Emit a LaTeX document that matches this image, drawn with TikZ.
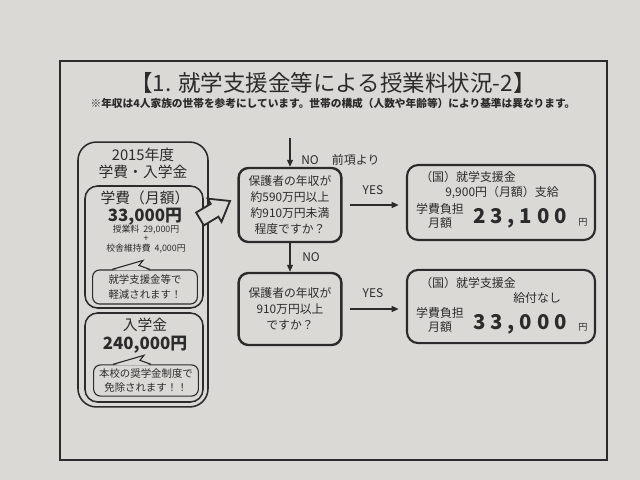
\documentclass[tikz,border=0pt]{standalone}
\usepackage{fontspec}
\setmainfont{Noto Sans CJK JP}
\usetikzlibrary{arrows.meta, positioning, calc}
\definecolor{paper}{HTML}{DAD9D5}
\definecolor{ink}{HTML}{2B2B2B}

\begin{document}
\begin{tikzpicture}[
    x=0.025cm, y=-0.025cm,
    every node/.style={text=ink, inner sep=0pt},
    frm/.style={draw=ink, line width=1pt},
    outbox/.style={draw=ink, line width=1.1pt, rounded corners=13pt, fill=paper},
    inbox/.style={draw=ink, line width=1.1pt, rounded corners=9pt},
    bubble/.style={draw=ink, line width=0.8pt, rounded corners=5pt, fill=paper, minimum width=2.62cm, align=center, font=\fontsize{7.4}{10}\selectfont},
    qbox/.style={draw=ink, line width=1.7pt, rounded corners=7pt, minimum width=2.57cm, align=center, font=\fontsize{8.4}{11.2}\selectfont},
    resbox/.style={draw=ink, line width=1.5pt, rounded corners=8pt, minimum width=4.7cm},
    flow/.style={draw=ink, line width=1pt, -{Triangle[length=5pt,width=4.2pt]}},
    lbl/.style={font=\fontsize{8.5}{10}\selectfont},
    head/.style={font=\fontsize{10.5}{13}\selectfont},
    rtxt/.style={font=\fontsize{8.5}{10}\selectfont, align=center},
    amt/.style={font=\fontsize{12}{14}\selectfont\bfseries},
    big/.style={font=\fontsize{14.5}{16}\selectfont\bfseries\addfontfeature{LetterSpace=24}},
    yen/.style={font=\fontsize{6.5}{8}\selectfont},
]
    % paper and frame
    \fill[paper] (0,0) rectangle (640,480);
    \useasboundingbox (0,0) rectangle (640,480);
    \draw[frm] (60,61) rectangle (607,460);

    \node[font=\fontsize{16}{18}\selectfont] (title) at (333,83) {【1. 就学支援金等による授業料状況-2】};
    \node[font=\fontsize{7.6}{9}\selectfont\bfseries] (note) at (333,103) {※年収は4人家族の世帯を参考にしています。世帯の構成（人数や年齢等）により基準は異なります。};

    % left: fees
    \node[outbox, minimum width=3.25cm, minimum height=6.62cm] (fees) at (143,274.5) {};
    \node[head] (year) at (143,155) {2015年度};
    \node[head] (feehd) at (143,172) {学費・入学金};
    \node[inbox, minimum width=2.95cm, minimum height=3.05cm] (tuit) at (144,247) {};
    \node[head] (tuithd) at (145,198) {学費（月額）};
    \node[amt] (tuitamt) at (145,216.5) {33,000円};
    \node[font=\fontsize{6.3}{7}\selectfont, align=center] (tuitsub) at (146,239) {授業料\ \ 29,000円\\+\\校舎維持費\ \ 4,000円};
    \node[bubble, minimum height=0.85cm] (bub1) at (145,287) {就学支援金等で\\軽減されます！};
    \node[inbox, minimum width=2.95cm, minimum height=2.225cm] (entr) at (144,357.5) {};
    \node[head] (entrhd) at (145,325) {入学金};
    \node[amt] (entramt) at (145,345) {240,000円};
    \node[bubble, minimum height=0.78cm] (bub2) at (146,380.5) {本校の奨学金制度で\\免除されます！！};
    \foreach \b in {bub1,bub2}{
        \fill[paper, shift={(\b.north)}] (-32,1) -- (-2,-9) -- (-6,-4) -- (4,1) -- cycle;
        \draw[ink, line width=0.8pt, line join=miter, shift={(\b.north)}] (-33,0) -- (-2,-9) -- (-6,-4) -- (5,0);
    }
    \filldraw[fill=paper, draw=ink, line width=1.3pt, line join=miter, shift={(200,219)}, rotate=31]
        (0,-7.5) -- (17,-7.5) -- (17,-13.5) -- (35,0) -- (17,13.5) -- (17,7.5) -- (0,7.5) -- cycle;

    % questions
    \node[qbox, minimum height=1.85cm] (q1) at (290,205) {保護者の年収が\\約590万円以上\\約910万円未満\\程度ですか？};
    \node[qbox, minimum height=1.8cm] (q2) at (290,309) {保護者の年収が\\910万円以上\\ですか？};
    \coordinate (prev) at (290,138);
    \draw[flow] (prev) -- (q1.north);
    \node[lbl, anchor=west] (no1) at (301,160) {NO\hspace{1.1em}前項より};
    \draw[flow] (q1.south) -- (q2.north);
    \node[lbl, anchor=west] (no2) at (302,257) {NO};

    % results
    \node[resbox, minimum height=1.875cm] (r1) at (501,202.5) {};
    \node[resbox, minimum height=1.83cm] (r2) at (501,306.5) {};
    \draw[flow, shorten <=0.18cm, shorten >=0.18cm] (q1.east) -- (q1.east -| r1.west);
    \draw[flow, shorten <=0.18cm, shorten >=0.18cm] (q2.east) -- (q2.east -| r2.west);
    \node[lbl] (yes1) at (373,190) {YES};
    \node[lbl] (yes2) at (373,293) {YES};

    \node[rtxt, anchor=west] (r1a) at (420,177) {（国）就学支援金};
    \node[rtxt, anchor=west] (r1b) at (445,193) {9,900円（月額）支給};
    \node[rtxt] (r1c) at (440,216) {学費負担\\月額};
    \node[big] (r1amt) at (520,218) {23,100};
    \node[yen] (r1yen) at (583,222) {円};

    \node[rtxt, anchor=west] (r2a) at (420,283) {（国）就学支援金};
    \node[rtxt, anchor=west] (r2b) at (513,298) {給付なし};
    \node[rtxt] (r2c) at (440,320) {学費負担\\月額};
    \node[big] (r2amt) at (520,324) {33,000};
    \node[yen] (r2yen) at (583,327) {円};
\end{tikzpicture}
\end{document}
